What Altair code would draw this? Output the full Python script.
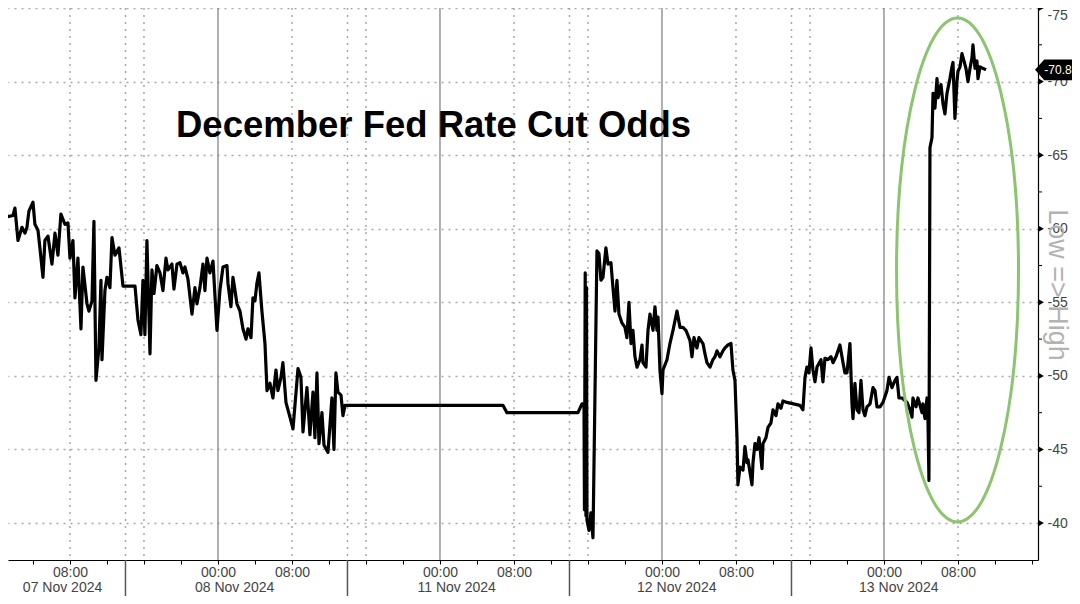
import altair as alt
import pandas as pd

# ---- data: (hours on the trading-day axis since 07 Nov 00:00, odds) ----
nov07 = [(0.43, 62.0), (0.75, 61.7), (0.75, 59.9), (0.97, 61.7), (1.19, 60.8), (1.84, 60.9), (2.05, 61.4),
         (2.38, 59.2), (2.81, 60.1), (3.13, 59.7), (3.35, 60.1), (3.56, 61.2), (4.0, 61.8), (4.21, 60.3),
         (4.54, 59.9), (4.75, 58.7), (5.08, 56.7), (5.29, 59.2), (5.62, 59.5), (6.05, 57.6), (6.38, 59.7),
         (6.70, 58.2), (7.02, 61.0), (7.46, 60.3), (7.78, 60.4), (8.0, 58.0), (8.32, 59.2), (8.54, 55.3),
         (8.86, 58.0), (9.19, 53.2), (9.40, 57.4), (9.84, 54.9), (10.05, 54.4), (10.38, 55.1), (10.59, 60.5),
         (10.81, 49.7), (11.13, 51.9), (11.35, 56.5), (11.46, 51.1), (11.78, 55.8), (12.0, 56.7), (12.32, 56.0),
         (12.54, 59.4), (12.86, 58.2), (13.3, 58.7), (13.73, 56.1)]
nov08 = [(15.03, 56.1), (15.35, 53.8), (15.67, 52.8), (15.89, 56.5), (16.1, 52.8), (16.32, 59.2), (16.65, 51.5),
         (16.86, 57.2), (17.08, 55.6), (17.4, 57.5), (17.73, 57.0), (18.05, 55.8), (18.38, 58.0), (18.59, 57.2),
         (19.02, 57.6), (19.24, 55.9), (19.57, 57.6), (19.89, 57.7), (20.21, 57.0), (20.43, 57.4), (20.75, 56.6),
         (21.19, 54.2), (21.51, 56.0), (21.73, 54.9), (22.05, 56.0), (22.38, 57.6), (22.59, 55.8), (22.81, 58.0),
         (23.13, 57.0), (23.46, 57.8), (23.89, 53.1), (24.21, 55.8), (24.54, 57.4), (24.97, 57.5), (25.08, 56.3),
         (25.4, 54.7), (25.62, 56.7), (25.84, 55.8), (26.05, 54.9), (26.38, 54.4), (26.7, 53.2), (27.03, 52.5),
         (27.24, 53.2), (27.57, 52.6), (27.78, 55.3), (28.0, 55.1), (28.21, 56.3), (28.43, 57.0), (28.75, 54.4),
         (29.08, 52.2), (29.3, 49.0), (29.62, 49.5), (29.94, 48.5), (30.27, 50.4), (30.48, 49.0), (30.81, 49.9),
         (31.02, 50.9), (31.35, 48.2), (31.78, 47.2), (32.11, 46.4), (32.65, 50.5), (32.97, 49.9), (33.19, 46.2),
         (33.62, 49.2), (33.94, 46.0), (34.27, 48.9), (34.48, 45.8), (34.7, 50.2), (34.92, 45.4), (35.24, 47.5),
         (35.46, 45.3), (35.89, 44.8), (36.32, 48.5), (36.54, 45.0), (36.75, 50.2), (36.97, 48.9), (37.3, 48.7),
         (37.51, 47.3), (37.73, 48.0)]
nov11 = [(54.81, 48.0), (55.24, 47.5), (62.92, 47.5), (63.35, 48.1), (63.57, 48.1)]
nov12 = [(63.62, 40.9), (63.7, 57.0), (63.78, 40.5), (63.84, 56.0), (63.89, 40.2), (64.11, 39.5), (64.32, 40.7),
         (64.54, 39.0), (64.97, 58.5), (65.19, 58.3), (65.4, 56.5), (65.62, 56.7), (65.94, 58.7), (66.16, 57.6),
         (66.48, 57.7), (66.7, 56.0), (66.92, 54.4), (67.13, 56.5), (67.35, 54.2), (67.67, 53.6), (68.0, 53.3),
         (68.21, 52.6), (68.43, 55.0), (68.65, 52.2), (68.86, 53.1), (69.08, 51.3), (69.3, 50.6), (69.62, 51.1),
         (69.84, 52.1), (69.94, 50.9), (70.27, 50.6), (70.49, 53.1), (70.7, 54.2), (71.03, 53.1), (71.24, 54.7),
         (71.46, 53.1), (71.57, 54.0), (71.78, 50.4), (72.0, 48.8), (72.11, 50.4), (72.54, 51.1), (72.86, 52.2),
         (73.19, 53.1), (73.62, 54.4), (73.95, 53.3), (74.27, 53.3), (74.59, 53.1), (75.03, 52.4), (75.24, 51.3),
         (75.46, 52.6), (75.78, 51.9), (76.0, 52.6), (76.43, 52.2), (76.65, 51.5), (76.86, 50.9), (77.19, 50.6),
         (77.51, 51.1), (77.73, 51.3), (77.95, 51.7), (78.27, 51.3), (78.59, 51.7), (78.81, 51.9), (79.13, 52.1),
         (79.46, 52.2), (79.67, 50.4), (79.89, 49.7), (80.11, 45.8), (80.21, 42.6), (80.43, 43.8), (80.76, 43.6),
         (80.97, 45.2), (81.19, 44.1), (81.3, 44.3), (81.73, 42.6), (81.84, 44.1), (82.05, 45.4), (82.27, 45.0),
         (82.49, 45.8), (82.81, 43.7), (82.92, 45.4), (83.24, 45.8), (83.46, 46.5), (83.78, 46.8), (84.0, 47.7),
         (84.32, 47.3), (84.54, 48.1), (84.86, 47.8), (85.08, 48.3), (85.51, 48.2)]
nov13 = [(86.92, 48.0), (87.24, 47.7), (87.46, 49.9), (87.67, 50.6), (87.89, 50.2), (88.11, 51.9), (88.32, 50.4),
         (88.54, 49.6), (88.76, 50.6), (89.19, 51.1), (89.4, 49.6), (89.62, 51.2), (89.94, 51.1), (90.27, 51.3),
         (90.49, 50.9), (90.81, 51.3), (91.03, 51.7), (91.24, 52.1), (91.57, 50.9), (91.78, 50.2), (92.0, 50.2),
         (92.32, 52.2), (92.54, 48.1), (92.65, 47.1), (92.86, 49.5), (93.08, 47.7), (93.3, 47.5), (93.51, 49.7),
         (93.73, 47.7), (93.94, 47.3), (94.16, 47.9), (94.49, 48.1), (94.81, 49.2), (95.03, 49.0), (95.24, 47.9),
         (95.57, 47.9), (95.89, 48.2), (96.32, 49.0), (96.54, 49.9), (96.86, 49.2), (97.19, 49.7), (97.4, 49.9),
         (97.62, 48.5), (97.95, 48.5), (98.49, 48.2), (98.81, 47.7), (99.03, 47.2), (99.13, 48.5), (99.46, 47.9),
         (99.67, 48.5), (100.11, 47.5), (100.21, 48.1), (100.43, 47.1), (100.65, 48.5), (100.75, 47.2),
         (100.86, 42.9), (100.97, 65.5), (101.19, 66.2), (101.3, 69.2), (101.51, 68.2), (101.73, 70.2),
         (101.84, 68.9), (102.16, 69.8), (102.38, 68.5), (102.59, 67.8), (102.81, 69.2), (103.13, 70.2),
         (103.35, 71.0), (103.46, 71.3), (103.67, 67.5), (103.89, 70.0), (104.0, 70.7), (104.22, 71.0),
         (104.43, 71.9), (104.65, 71.4), (104.86, 70.9), (105.08, 70.0), (105.3, 70.9), (105.51, 71.6),
         (105.62, 72.5), (105.84, 70.9), (106.05, 71.4), (106.16, 70.2), (106.38, 71.0), (106.7, 70.9),
         (107.03, 70.8)]

last_value = 70.8
title_text = "December Fed Rate Cut Odds"
side_text = "Low => High"

# axis / annotation values
y_ticks = [40, 45, 50, 55, 60, 65, 70, 75]
y_minor = [42.5, 47.5, 52.5, 57.5, 62.5, 67.5, 72.5]
hour_ticks = list(range(4, 113, 4))
hour_label_at = [8, 24, 32, 48, 56, 72, 80, 96, 104]
hour_label_txt = ["08:00", "00:00", "08:00", "00:00", "08:00", "00:00", "08:00", "00:00", "08:00"]
day_names = ["07 Nov 2024", "08 Nov 2024", "11 Nov 2024", "12 Nov 2024", "13 Nov 2024"]
day_centers = [7.2, 25.8, 49.8, 73.6, 97.6]
day_separators = [14, 38, 62, 86]
midnights = [24, 48, 72, 96]
dotted_hours = [8, 14, 16, 32, 38, 40, 56, 62, 64, 80, 86, 88, 104]
ellipse_center = (103.95, 57.2)

# ---- build ----
rows = []
for seg in [nov07, nov08, nov11, nov12, nov13]:
    for t, v in seg:
        rows.append({"t": t, "v": v, "i": len(rows)})
df = pd.DataFrame(rows)

W, H = 1030, 552
PAD_R, PAD_B = 34, 36
xs = alt.Scale(domain=[1.3, 112.65], nice=False, zero=False)
ys = alt.Scale(domain=[37.49, 75], nice=False, zero=False)
FONT = "Liberation Sans"

label_expr = "".join(f"datum.value == {h} ? '{s}' : " for h, s in zip(hour_label_at, hour_label_txt)) + "''"

x_axis = alt.Axis(values=hour_ticks, labelExpr=label_expr, grid=False, tickSize=4, tickColor="black",
                  domainColor="black", domainWidth=1.2, labelFontSize=14, labelColor="#444444",
                  labelPadding=1, labelFont=FONT, title=None, labelAngle=0)
y_axis = alt.Axis(orient="right", values=y_ticks, labelExpr="'-' + datum.value", grid=True,
                  gridColor="#a8a8a8", gridDash=[2, 5], gridWidth=1.5, ticks=False,
                  domainColor="black", domainWidth=1.2, labelFontSize=14, labelColor="#444444",
                  labelPadding=9, labelFont=FONT, title=None,
                  labelBaseline={"condition": {"test": "datum.value == 75", "value": "top"}, "value": "middle"})


def X(field="t:Q"):
    return alt.X(field, scale=xs, axis=x_axis)


def Y(field="v:Q"):
    return alt.Y(field, scale=ys, axis=y_axis)


dotted = alt.Chart(pd.DataFrame({"t": dotted_hours})).mark_rule(
    color="#a8a8a8", strokeDash=[2, 5], strokeWidth=1.5).encode(x=X())
solid = alt.Chart(pd.DataFrame({"t": midnights})).mark_rule(
    color="#7a7a7a", strokeWidth=1.2).encode(x=X())

title = alt.Chart(pd.DataFrame({"s": [title_text]})).mark_text(
    align="left", baseline="alphabetic", fontSize=36.5, fontWeight="bold", font=FONT, color="black").encode(
    x=alt.value(168), y=alt.value(129), text="s:N")

line = alt.Chart(df).mark_line(color="black", strokeWidth=3.2, strokeJoin="round", clip=True).encode(
    x=X(), y=Y(), order=alt.Order("i:Q"))

ellipse_path = ("M0.242,0 C0.242,0.552 0.134,1 0,1 C-0.134,1 -0.242,0.552 -0.242,0 "
                "C-0.242,-0.552 -0.134,-1 0,-1 C0.134,-1 0.242,-0.552 0.242,0 Z")
ellipse = alt.Chart(pd.DataFrame({"t": [ellipse_center[0]], "v": [ellipse_center[1]]})).mark_point(
    shape=ellipse_path, size=504 * 504, filled=False, color="#8cc46f", strokeWidth=3, opacity=1).encode(
    x=X(), y=Y())

tri = alt.Chart(pd.DataFrame({"v": y_ticks})).mark_point(
    shape="triangle-right", size=45, filled=True, color="black", opacity=1).encode(
    x=alt.value(W + 3), y=Y())
minor = alt.Chart(pd.DataFrame({"v": y_minor})).mark_rule(color="black", strokeWidth=1).encode(
    x=alt.value(W), x2=alt.value(W + 4), y=Y())

tag_path = "M-1,0 L-0.5,-0.56 L1,-0.56 L1,0.56 L-0.5,0.56 Z"
tag = alt.Chart(pd.DataFrame({"v": [last_value]})).mark_point(
    shape=tag_path, size=37 * 37, filled=True, color="black", opacity=1).encode(
    x=alt.value(W + 15.5), y=Y())
tag_text = alt.Chart(pd.DataFrame({"v": [last_value], "s": [f"-{last_value}"]})).mark_text(
    color="white", fontSize=12, font=FONT, align="center", baseline="middle").encode(
    x=alt.value(W + 20), y=Y(), text="s:N")

side = alt.Chart(pd.DataFrame({"s": [side_text]})).mark_text(
    angle=90, fontSize=27, font=FONT, color="#b3b3b3", align="center", baseline="middle").encode(
    x=alt.value(W + 19), y=alt.value(277), text="s:N")

days = alt.Chart(pd.DataFrame({"t": day_centers, "s": day_names})).mark_text(
    fontSize=14, font=FONT, color="#444444", align="center", baseline="middle").encode(
    x=X(), y=alt.value(H + 28), text="s:N")
seps = alt.Chart(pd.DataFrame({"t": day_separators})).mark_rule(color="#555555", strokeWidth=1.5).encode(
    x=X(), y=alt.value(H), y2=alt.value(H + PAD_B))

chart = alt.layer(dotted, solid, title, line, ellipse, tri, minor, tag, tag_text, side, days, seps).properties(
    width=W, height=H,
    autosize=alt.AutoSizeParams(type="none"),
    padding={"left": 0, "top": 0, "right": PAD_R, "bottom": PAD_B},
    background="white",
).configure(font=FONT).configure_view(stroke=None)

chart.save("out.html", embed_options={"renderer": "svg", "actions": False})
